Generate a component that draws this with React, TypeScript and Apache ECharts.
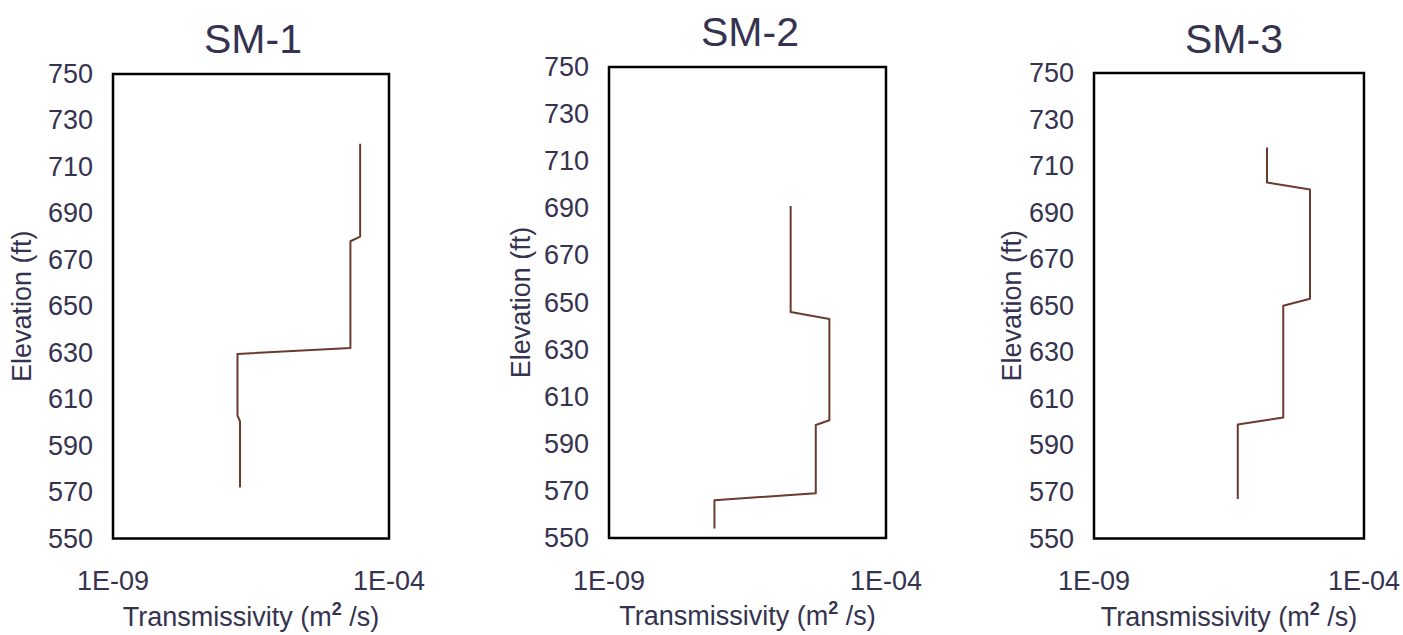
import React, { useEffect, useRef } from "react";
import * as echarts from "echarts";

const titles = ["SM-1", "SM-2", "SM-3"];
// Transmissivity (m2/s) and elevation (ft) pairs
const sm1T = [3.0e-5, 3.0e-5, 2.0e-5, 2.0e-5, 1.8e-7, 1.8e-7, 2.0e-7, 2.0e-7];
const sm1E = [720, 680, 678, 632, 629.5, 603, 600.5, 572];
const sm2T = [1.9e-6, 1.9e-6, 9.5e-6, 9.5e-6, 5.4e-6, 5.4e-6, 8.0e-8, 8.0e-8];
const sm2E = [691, 646, 643, 600, 598, 569, 566, 554];
const sm3T = [1.6e-6, 1.6e-6, 1.0e-5, 1.0e-5, 3.2e-6, 3.2e-6, 4.6e-7, 4.6e-7];
const sm3E = [718, 703, 700, 653, 650, 602, 599, 567];

const xMin = 1e-9;
const xMax = 1e-4;
const yMin = 550;
const yMax = 750;
const yStep = 20;

const TEXT = "#35334f";
const LINE = "#6b3a2e";
const FONT = "Liberation Sans, Arial, sans-serif";

const grids = [
  { left: 113, top: 74, width: 276, height: 471 },
  { left: 609, top: 67, width: 277, height: 471 },
  { left: 1094, top: 73, width: 274, height: 467 },
];
const titleX = [248, 745, 1229];
const titleTop = [13, 6, 13];
const yNameGap = [78, 75, 69];

export default function App() {
  const ref = useRef<HTMLDivElement>(null);
  useEffect(() => {
    document.body.style.margin = "0";
    const chart = echarts.init(ref.current!, null, { renderer: "svg" });
    const series = [
      [sm1T, sm1E],
      [sm2T, sm2E],
      [sm3T, sm3E],
    ];
    const option: any = {
      animation: false,
      backgroundColor: "#ffffff",
      textStyle: { fontFamily: FONT },
      title: titles.map((t, i) => ({
        text: t,
        left: titleX[i],
        top: titleTop[i],
        textAlign: "center",
        textStyle: { fontFamily: FONT, fontSize: 41, fontWeight: "normal", color: TEXT },
      })),
      grid: grids.map((g) => ({
        ...g,
        show: true,
        borderColor: "#000",
        borderWidth: 2.5,
        backgroundColor: "transparent",
      })),
      xAxis: grids.map((_, i) => ({
        type: "log",
        logBase: 10,
        gridIndex: i,
        min: xMin,
        max: xMax,
        axisLine: { show: false },
        axisTick: { show: false },
        splitLine: { show: false },
        axisLabel: {
          showMinLabel: true,
          showMaxLabel: true,
          margin: 29,
          fontSize: 27,
          color: TEXT,
          fontFamily: FONT,
          formatter: (v: number) => {
            const e = Math.round(Math.log10(v));
            if (e === -9 || e === -4) return "1E-0" + -e;
            return "";
          },
        },
        name: "Transmissivity (m{sup|2} /s)",
        nameLocation: "middle",
        nameGap: 58,
        nameTextStyle: {
          fontSize: 27,
          color: TEXT,
          fontFamily: FONT,
          rich: {
            sup: { fontSize: 18, fontWeight: "bold", color: TEXT, verticalAlign: "top", padding: [0, 0, 16, 0] },
          },
        },
      })),
      yAxis: grids.map((_, i) => ({
        type: "value",
        gridIndex: i,
        min: yMin,
        max: yMax,
        interval: yStep,
        axisLine: { show: false },
        axisTick: { show: false },
        splitLine: { show: false },
        axisLabel: { fontSize: 27, color: TEXT, fontFamily: FONT, margin: 20 },
        name: "Elevation (ft)",
        nameLocation: "middle",
        nameGap: yNameGap[i],
        nameTextStyle: { fontSize: 27, color: TEXT, fontFamily: FONT },
      })),
      series: series.map(([t, e], i) => ({
        type: "line",
        xAxisIndex: i,
        yAxisIndex: i,
        data: t.map((v, j) => [v, e[j]]),
        showSymbol: false,
        symbol: "none",
        lineStyle: { color: LINE, width: 2, join: "round" },
      })),
    };
    chart.setOption(option);
    return () => chart.dispose();
  }, []);
  return <div ref={ref} style={{ width: 1403, height: 635, overflow: "hidden" }} />;
}
